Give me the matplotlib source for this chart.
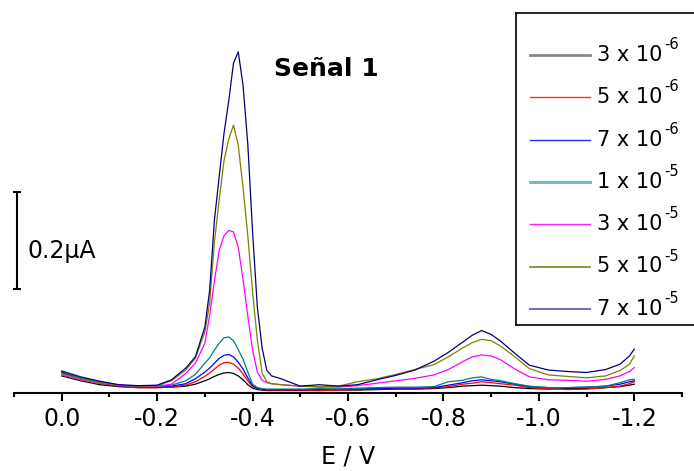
import matplotlib
matplotlib.use("Agg")
import matplotlib.pyplot as plt
from matplotlib.ticker import FixedLocator, MultipleLocator

# potential (V) shared by all scans
E = [0.00, -0.04, -0.08, -0.12, -0.16, -0.20, -0.23, -0.26, -0.28,
     -0.30, -0.31, -0.32, -0.33, -0.34, -0.35, -0.36, -0.37, -0.38, -0.39,
     -0.40, -0.41, -0.42, -0.43, -0.44, -0.46, -0.50, -0.54, -0.58, -0.62,
     -0.66, -0.70, -0.74, -0.78, -0.81, -0.84, -0.86, -0.88, -0.90, -0.92,
     -0.95, -0.98, -1.02, -1.06, -1.10, -1.14, -1.17, -1.19, -1.20]

# current (uA, relative to the axis line)
i_3e6 = [.034, .024, .016, .012, .010, .010, .011, .013, .017,
         .024, .028, .033, .037, .040, .041, .039, .034, .026, .016, .009, .006, .005, .004, .004,
         .004, .004, .004, .005, .005, .006, .007, .007, .008,
         .010, .013, .014, .015, .014, .013, .010, .008,
         .007, .008, .008, .010, .012, .015, .017]
i_5e6 = [.040, .028, .019, .013, .010, .010, .011, .015, .022,
         .033, .040, .048, .056, .061, .062, .058, .050, .038, .024, .012, .008, .006, .005, .005,
         .005, .005, .004, .005, .006, .007, .008, .008, .009,
         .012, .017, .019, .022, .020, .018, .015, .010,
         .008, .006, .007, .010, .013, .018, .022]
i_7e6 = [.041, .029, .020, .014, .011, .011, .013, .018, .028,
         .042, .050, .060, .070, .076, .078, .073, .062, .048, .030, .014, .009, .007, .006, .006,
         .006, .006, .006, .007, .007, .008, .009, .009, .010,
         .015, .020, .024, .026, .024, .022, .017, .012,
         .010, .010, .011, .013, .017, .022, .024]
i_1e5 = [.042, .030, .022, .015, .012, .012, .015, .024, .037,
         .060, .071, .087, .101, .112, .114, .106, .088, .068, .042, .017, .010, .008, .007, .007,
         .007, .007, .008, .007, .009, .010, .011, .011, .012,
         .022, .025, .030, .032, .027, .024, .018, .013,
         .010, .010, .011, .013, .020, .026, .027]
i_3e5 = [.036, .026, .019, .015, .012, .013, .017, .039, .060,
         .101, .158, .228, .291, .321, .332, .329, .298, .231, .157, .087, .042, .025, .020, .018,
         .016, .013, .011, .011, .014, .019, .024, .029, .036,
         .047, .063, .073, .077, .075, .067, .048, .032,
         .026, .025, .023, .027, .034, .043, .051]
i_5e5 = [.038, .028, .020, .015, .013, .014, .024, .046, .070,
         .124, .183, .308, .394, .474, .519, .548, .507, .420, .322, .206, .108, .040, .022, .018,
         .016, .013, .012, .013, .022, .028, .037, .047, .057,
         .073, .091, .102, .109, .106, .095, .073, .049,
         .036, .033, .030, .034, .045, .058, .075]
i_7e5 = [.044, .032, .023, .016, .014, .015, .026, .050, .073,
         .134, .209, .353, .442, .530, .597, .675, .698, .630, .509, .329, .175, .091, .045, .034,
         .028, .013, .016, .013, .016, .026, .035, .046, .064,
         .082, .103, .117, .127, .119, .105, .080, .056,
         .046, .043, .041, .047, .058, .075, .089]

series = [i_3e6, i_5e6, i_7e6, i_1e5, i_3e5, i_5e5, i_7e5]
mantissas = ["3 x 10", "5 x 10", "7 x 10", "1 x 10", "3 x 10", "5 x 10", "7 x 10"]
exponents = ["-6", "-6", "-6", "-5", "-5", "-5", "-5"]
line_colors = ["black", "#ff0000", "#0000ff", "#008080", "#ff00ff", "#808000", "#000080"]
legend_colors = ["#888888", "#ff2a2a", "#2a2aff", "#6fb7b7", "#ff22ff", "#8c8c2a", "#7272b4"]
legend_widths = [2.0, 1.0, 1.0, 2.0, 1.0, 1.3, 1.5]

tick_values = [0.0, -0.2, -0.4, -0.6, -0.8, -1.0, -1.2]
tick_labels = ["0.0", "-0.2", "-0.4", "-0.6", "-0.8", "-1.0", "-1.2"]

W, H = 694, 471
fig = plt.figure(figsize=(W / 100, H / 100), dpi=100, facecolor="white")
ax = fig.add_axes([14 / W, 78.5 / H, 668 / W, 392.5 / H])
ax.set_xlim(0.1, -1.3)
ax.set_ylim(0, 392.5 / 488)

for y, c in zip(series, line_colors):
    ax.plot(E, y, color=c, lw=0.9)

for s in ["left", "top", "right"]:
    ax.spines[s].set_visible(False)
ax.spines["bottom"].set_linewidth(1.5)
ax.set_yticks([])
ax.xaxis.set_major_locator(FixedLocator(tick_values))
ax.set_xticklabels(tick_labels)
ax.xaxis.set_minor_locator(MultipleLocator(0.1))
ax.tick_params(axis="x", which="major", length=5.5, width=1.5, labelsize=17, pad=5)
ax.tick_params(axis="x", which="minor", length=3.2, width=1.5)
ax.set_xlabel("E / V", fontsize=17, labelpad=10)

# 0.2 uA scale bar
ax.errorbar([0.094], [0.3115], yerr=[0.1], color="black", lw=1.5,
            capsize=3, capthick=1.5, clip_on=False)
ax.text(0.072, 0.2906, "0.2\u00b5A", fontsize=17, va="center", ha="left")

fig.text(274 / W, 1 - 68.8 / H, "Señal 1", fontsize=18, fontweight="bold",
         va="center", ha="left")

# legend box
lax = fig.add_axes([516 / W, (H - 325) / H, 184 / W, 312.3 / H])
lax.set_xlim(0, 184)
lax.set_ylim(312.3, 0)
lax.set_xticks([])
lax.set_yticks([])
for s in lax.spines.values():
    s.set_linewidth(1.2)
for k in range(7):
    yk = 42.3 * (k + 1)
    lax.plot([14, 74], [yk, yk], color=legend_colors[k], lw=legend_widths[k])
    t = lax.text(81, yk, mantissas[k], fontsize=15, va="center", ha="left")
    lax.annotate(exponents[k], xy=(1, 0.5), xycoords=t, xytext=(1.5, 7.5),
                 textcoords="offset points", fontsize=10.5, va="center", ha="left")

fig.savefig("out.png", dpi=100)
